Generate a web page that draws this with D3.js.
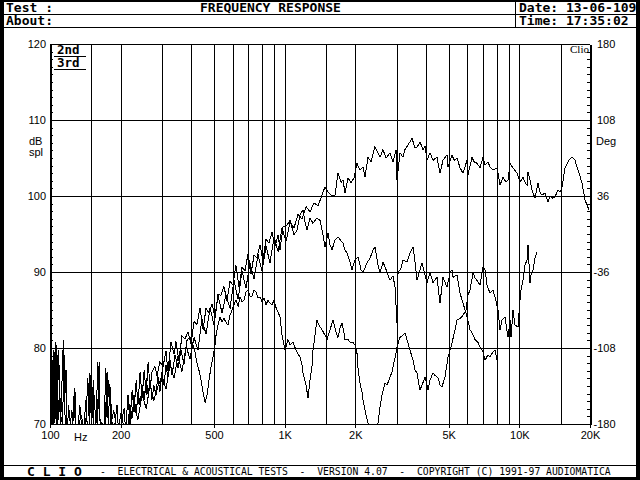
<!DOCTYPE html>
<html><head><meta charset="utf-8">
<script src="https://cdn.jsdelivr.net/npm/d3@7"></script>
<style>body{margin:0;background:#fff}svg{display:block}</style>
</head><body>
<svg id="c" width="640" height="480"></svg>
<script>
// ---- data (frequency in Hz, level in dB SPL) ----
const fundamental = [[219,70.0],[228,72.4],[237,70.6],[247,73.9],[257,72.0],[267,75.2],[277,73.1],[288,74.9],[300,76.3],[312,74.6],
[325,77.8],[338,76.0],[351,79.0],[365,76.9],[380,80.2],[395,78.6],[411,81.4],[427,79.7],[444,83.9],[462,81.8],
[481,85.3],[500,83.0],[520,86.9],[541,84.6],[562,87.0],[585,85.2],[608,88.9],[633,86.4],[658,90.1],[684,87.9],
[712,91.2],[740,89.1],[770,92.3],[801,90.1],[833,93.4],[866,91.2],[901,94.6],[937,92.7],[974,95.8],[1013,94.0],
[1054,96.6],[1096,95.8],[1140,97.6],[1185,97.0],[1233,98.6],[1282,97.9],[1333,99.1],[1387,98.7],[1442,100.1],[1485,101.2],
[1530,100.5],[1591,100.0],[1638,100.1],[1687,103.0],[1738,101.8],[1772,102.1],[1808,100.4],[1862,102.4],[1917,101.7],[1974,102.4],
[2033,104.3],[2094,103.4],[2157,103.8],[2199,102.5],[2265,105.1],[2333,104.5],[2426,106.5],[2499,105.7],[2548,105.1],[2624,106.1],
[2703,105.0],[2811,105.7],[2895,104.5],[2982,106.1],[3011,102.1],[3100,105.7],[3193,105.1],[3256,106.1],[3353,106.7],[3489,107.6],
[3593,106.3],[3664,106.4],[3773,107.1],[3886,106.1],[3963,106.6],[4041,104.7],[4162,105.7],[4286,104.7],[4458,105.1],[4591,103.0],
[4728,104.7],[4917,105.4],[4966,103.8],[5166,105.4],[5269,104.7],[5426,105.0],[5587,103.7],[5754,103.0],[5984,104.7],[6043,102.8],
[6285,105.1],[6410,104.5],[6601,104.3],[6798,103.7],[7001,105.1],[7140,104.1],[7353,104.5],[7499,103.8],[7723,103.4],[8032,103.7],
[8112,103.0],[8271,101.4],[8518,102.5],[8773,101.8],[8947,102.1],[9124,104.3],[9397,103.7],[9773,103.0],[10065,101.8],[10366,102.5],
[10571,101.8],[10781,101.4],[10887,103.2],[11102,102.1],[11322,100.8],[11660,99.7],[12009,101.7],[12245,100.5],[12487,100.1],[12861,100.4],
[13245,99.2],[13508,100.0],[13775,99.7],[14187,99.9],[14612,100.8],[14900,100.5],[15195,101.1],[15649,103.7],[16117,104.5],[16437,104.9],
[16762,105.1],[17264,104.7],[17780,103.4],[18130,102.6],[18489,101.7],[19042,99.5],[19419,98.8],[19805,98.2]];

const secondHarmonic = [[100,70.0],[102,70.0],[103,78.4],[104,70.0],[106,80.8],[107,70.0],[109,79.7],[110,71.8],[113,70.0],[115,79.1],
[116,70.0],[119,70.0],[120,72.5],[122,70.0],[125,70.0],[127,74.7],[128,70.0],[132,70.0],[134,72.5],[136,70.0],
[140,70.0],[142,73.2],[144,70.0],[147,70.0],[148,76.7],[150,70.0],[153,75.8],[154,70.0],[159,70.0],[162,78.2],
[163,70.5],[167,70.0],[172,70.0],[175,76.8],[177,70.0],[180,75.1],[184,70.0],[189,70.0],[193,72.5],[195,70.0],
[201,70.0],[207,72.1],[209,70.0],[215,70.0],[219,72.6],[224,70.8],[228,73.8],[233,71.2],[237,74.2],[242,72.5],
[247,75.1],[252,73.2],[257,76.1],[262,73.8],[267,75.8],[272,73.2],[277,75.1],[283,73.8],[288,76.4],[294,74.2],
[300,76.8],[306,75.1],[312,77.8],[318,76.1],[325,78.4],[331,76.4],[341,79.1],[351,77.4],[362,79.7],[372,77.8],
[384,81.1],[395,81.4],[407,80.4],[415,79.5],[423,78.0],[431,77.1],[440,75.8],[449,74.2],[458,72.8],[467,73.8],
[476,75.8],[485,77.4],[495,78.8],[505,80.4],[510,81.7],[520,83.0],[530,84.1],[541,83.4],[551,83.9],[562,83.4],
[573,83.0],[585,84.3],[597,85.0],[608,85.7],[620,86.3],[633,85.5],[645,86.7],[658,86.1],[671,86.3],[684,87.4],
[698,87.6],[712,86.8],[726,86.8],[740,87.6],[755,87.4],[770,86.6],[785,86.7],[801,86.1],[817,86.6],[833,85.7],
[849,86.3],[866,85.9],[883,85.7],[901,86.3],[919,85.3],[937,84.7],[955,84.1],[974,81.7],[1003,79.7],[1033,81.1],
[1054,80.4],[1085,80.8],[1118,79.7],[1162,78.8],[1185,77.8],[1197,76.7],[1233,75.1],[1258,73.4],[1282,75.8],[1307,77.5],
[1320,79.7],[1347,81.7],[1373,83.7],[1400,83.0],[1442,82.4],[1485,81.7],[1515,81.1],[1560,82.4],[1607,83.7],[1655,82.1],
[1687,81.4],[1721,82.6],[1755,83.3],[1790,82.0],[1808,81.1],[1862,81.1],[1898,80.8],[1955,80.7],[1993,80.4],[2033,79.3],
[2053,77.4],[2094,75.4],[2135,74.2],[2157,73.2],[2199,71.8],[2265,70.1],[2356,68.9],[2452,68.9],[2499,70.1],[2548,72.2],
[2599,73.8],[2676,75.4],[2730,75.1],[2811,76.2],[2867,76.8],[2895,77.5],[2952,78.7],[3011,80.1],[3071,81.1],[3100,81.4],
[3193,81.7],[3256,82.0],[3320,81.1],[3421,79.7],[3523,78.4],[3593,77.1],[3664,76.7],[3736,75.1],[3773,74.5],[3848,75.1],
[3963,76.2],[4041,75.1],[4082,74.5],[4162,75.8],[4286,76.7],[4371,76.4],[4502,76.1],[4591,75.1],[4682,74.9],[4822,76.2],
[4966,78.8],[5066,79.7],[5166,80.7],[5321,82.4],[5426,83.7],[5587,83.9],[5754,84.3],[5926,85.0],[6043,87.0],[6163,87.6],
[6347,89.9],[6473,89.2],[6601,88.9],[6798,88.3],[7001,90.7],[7140,90.3],[7282,88.3],[7499,87.2],[7723,87.6],[7876,86.7],
[8112,85.0],[8271,82.4],[8435,83.7],[8687,84.1],[8947,81.4],[9124,83.7],[9214,81.4],[9397,85.0],[9583,83.0],[9870,82.8],
[10065,86.3],[10164,87.6],[10366,88.9],[10571,90.9],[10781,91.6],[10887,93.6],[11102,88.6],[11211,89.6],[11433,90.3],[11660,91.8],
[11891,92.6]];

const thirdHarmonic = [[100,70.0],[101,73.8],[102,70.0],[104,79.7],[105,70.5],[107,80.4],[108,70.0],[110,75.1],[111,70.0],[114,81.1],
[115,71.8],[117,77.1],[118,70.0],[122,70.0],[124,71.8],[125,70.0],[128,74.2],[129,70.0],[133,70.0],[136,71.2],
[138,70.0],[142,70.0],[145,76.1],[147,70.0],[150,76.8],[151,70.8],[154,73.8],[157,70.0],[160,78.2],[162,71.2],
[165,70.0],[170,70.0],[173,77.4],[175,70.8],[178,75.8],[182,70.0],[187,71.8],[191,70.0],[197,70.0],[201,71.6],
[205,70.0],[211,70.0],[215,73.8],[219,70.0],[224,74.5],[228,71.6],[233,75.8],[237,72.5],[242,76.8],[247,73.4],
[252,77.1],[257,73.8],[262,78.2],[267,74.7],[272,76.8],[280,77.6],[286,76.3],[294,78.2],[303,77.5],[312,79.6],
[318,77.0],[328,80.8],[338,79.2],[344,80.9],[354,78.3],[365,81.6],[376,81.2],[387,82.1],[399,80.5],[411,83.5],
[423,83.1],[436,85.3],[449,82.4],[462,85.2],[476,84.6],[490,85.8],[505,84.1],[520,87.1],[535,86.9],[551,88.1],
[568,86.2],[585,88.8],[602,88.3],[620,90.9],[639,88.0],[658,90.6],[678,90.2],[698,92.4],[719,89.7],[740,92.2],
[762,91.9],[785,93.6],[808,91.5],[833,94.3],[857,93.8],[883,95.2],[910,93.4],[937,94.9],[955,92.9],[984,95.9],
[1023,96.2],[1054,96.8],[1096,94.9],[1129,95.5],[1162,97.5],[1197,98.2],[1220,96.6],[1245,95.5],[1282,97.1],[1320,96.4],
[1373,97.1],[1414,96.8],[1456,94.9],[1485,93.3],[1530,95.1],[1560,93.6],[1591,92.9],[1638,94.2],[1687,94.6],[1772,93.8],
[1808,92.9],[1844,92.5],[1898,91.3],[1936,90.3],[1993,91.6],[2053,92.0],[2115,90.3],[2157,89.9],[2243,91.2],[2310,91.8],
[2379,92.9],[2426,93.3],[2499,90.9],[2548,89.9],[2624,91.3],[2676,90.7],[2757,89.6],[2811,88.9],[2895,89.5],[2952,88.0],
[3011,83.3],[3041,89.9],[3131,90.5],[3193,91.6],[3320,91.3],[3421,92.5],[3523,93.3],[3593,91.3],[3664,88.9],[3773,90.3],
[3848,91.2],[3963,89.6],[4041,88.6],[4162,89.9],[4286,88.6],[4458,89.3],[4591,85.9],[4728,89.3],[4917,88.0],[5066,89.9],
[5166,90.3],[5218,89.3],[5426,89.6],[5587,87.2],[5754,85.9],[5984,84.1],[6163,82.4],[6285,82.0],[6473,81.1],[6667,80.7],
[6798,80.1],[7001,79.5],[7140,78.4],[7353,79.1],[7499,78.8],[7723,79.5],[7876,79.7],[8032,78.4]];

const gridHz = [150,200,300,400,500,600,700,800,900,1000,1500,2000,3000,4000,5000,6000,7000,8000,9000,10000,15000];
const gridDb = [80,90,100,110];
const xLabelHz = [100,200,500,1000,2000,5000,10000,20000];
const xLabelText = ["100","200","500","1K","2K","5K","10K","20K"];
const degLabels = ["-180","-108","-36","36","108","180"];
const legendLabels = ["2nd","3rd"];
const headerTitle = "FREQUENCY RESPONSE";
const headerDate = "Date: 13-06-109";
const headerTime = "Time: 17:35:02";
const footerBrand = "C L I O";
const footerText = "-  ELECTRICAL & ACOUSTICAL TESTS  -  VERSION 4.07  -  COPYRIGHT (C) 1991-97 AUDIOMATICA";

// ---- drawing ----
const svg = d3.select('#c');
const L = 50, R = 590, T = 44, B = 424;
const x = d3.scaleLog().domain([100, 20000]).range([L, R]);
const y = d3.scaleLinear().domain([70, 120]).range([B, T]);
const yDeg = d3.scaleLinear().domain([-180, 180]).range([B, T]);
const MONO = "'DejaVu Sans Mono', monospace";
const SANS = "'Liberation Sans', Arial, sans-serif";

svg.append('rect').attr('width', 640).attr('height', 480).attr('fill', '#fff');

// outer frame
svg.append('rect').attr('x', 0).attr('y', 0).attr('width', 4).attr('height', 480).attr('fill', '#000');
svg.append('rect').attr('x', 636).attr('y', 0).attr('width', 4).attr('height', 480).attr('fill', '#000');
svg.append('rect').attr('x', 0).attr('y', 0).attr('width', 640).attr('height', 2).attr('fill', '#000');
svg.append('rect').attr('x', 0).attr('y', 477).attr('width', 640).attr('height', 3).attr('fill', '#000');

const hl = (x1, y1, x2, y2, w) => svg.append('line').attr('x1', x1).attr('y1', y1).attr('x2', x2).attr('y2', y2)
  .attr('stroke', '#000').attr('stroke-width', w || 1).attr('shape-rendering', 'crispEdges');
hl(4, 14.5, 636, 14.5);
hl(4, 27.5, 636, 27.5);
hl(515.5, 2, 515.5, 27.5);
hl(4, 465.5, 636, 465.5);

const txt = (s, xx, yy, opt) => svg.append('text').attr('x', xx).attr('y', yy).text(s)
    .attr('font-family', opt.f || MONO).attr('font-size', opt.s || 13)
    .attr('font-weight', opt.w || 'normal').attr('fill', '#000')
    .attr('text-anchor', opt.a || 'start').style('white-space', 'pre');

txt('Test :', 6, 12, {w: 'bold'});
txt(headerTitle, 200, 12, {w: 'bold'});
txt(headerDate, 519, 12, {w: 'bold'});
txt('About:', 6, 25, {w: 'bold'});
txt(headerTime, 519, 25, {w: 'bold'});
txt(footerBrand, 27, 476, {w: 'bold'});
txt(footerText, 100, 475, {s: 9.75});

// plot area grid
const grid = svg.append('g').attr('stroke', '#000').attr('stroke-width', 1).attr('shape-rendering', 'crispEdges');
grid.selectAll('line.v').data(gridHz).join('line').attr('class', 'v')
  .attr('x1', d => Math.round(x(d)) + 0.5).attr('x2', d => Math.round(x(d)) + 0.5).attr('y1', T).attr('y2', B);
grid.selectAll('line.h').data(gridDb).join('line').attr('class', 'h')
  .attr('x1', L).attr('x2', R).attr('y1', d => Math.round(y(d)) + 0.5).attr('y2', d => Math.round(y(d)) + 0.5);
grid.append('line').attr('x1', L).attr('x2', R).attr('y1', T + 0.5).attr('y2', T + 0.5);

// curves
svg.append('clipPath').attr('id', 'clip').append('rect').attr('x', L).attr('y', T).attr('width', R - L).attr('height', B - T + 1);
const line = d3.line().x(d => x(d[0])).y(d => y(d[1]));
const curves = svg.append('g').attr('clip-path', 'url(#clip)');
[fundamental, secondHarmonic, thirdHarmonic].forEach(s => {
  curves.append('path').attr('d', line(s)).attr('fill', 'none').attr('stroke', '#000')
    .attr('stroke-width', 1).attr('shape-rendering', 'crispEdges');
});

// axes
const styleAxis = g => {
  g.attr('font-family', SANS).attr('font-size', 11);
  g.selectAll('line').attr('stroke', '#000').attr('shape-rendering', 'crispEdges');
  g.selectAll('text').attr('fill', '#000');
};
const leftAx = svg.append('g').attr('transform', `translate(${L},0)`)
  .call(d3.axisLeft(y).tickValues(d3.range(70, 121, 1)).tickSize(-3).tickSizeOuter(0).tickPadding(4)
    .tickFormat(d => d % 10 === 0 ? String(d) : ''));
styleAxis(leftAx);
leftAx.select('.domain').attr('stroke', '#000').attr('stroke-width', 2).attr('shape-rendering', 'crispEdges');

const degTicks = d3.range(0, 51).map(i => -180 + i * 7.2);
const rightAx = svg.append('g').attr('transform', `translate(${R},0)`)
  .call(d3.axisRight(yDeg).tickValues(degTicks).tickSize(-3).tickSizeOuter(0).tickPadding(7)
    .tickFormat((d, i) => i % 10 === 0 ? degLabels[i / 10] : ''));
styleAxis(rightAx);
rightAx.select('.domain').attr('stroke', '#000').attr('stroke-width', 2).attr('shape-rendering', 'crispEdges');
rightAx.selectAll('text').filter(d => d < 0).attr('dx', -3.5);

const botAx = svg.append('g').attr('transform', `translate(0,${B})`)
  .call(d3.axisBottom(x).tickValues(xLabelHz).tickSize(4).tickSizeOuter(0).tickPadding(3)
    .tickFormat((d, i) => xLabelText[i]));
styleAxis(botAx);
botAx.select('.domain').attr('stroke', '#000').attr('stroke-width', 1).attr('shape-rendering', 'crispEdges');

// axis titles and marks
txt('Hz', 74, 441, {f: SANS, s: 11});
txt('dB', 29, 145, {f: SANS, s: 11});
txt('spl', 29, 156, {f: SANS, s: 11});
txt('Deg', 596, 145, {f: SANS, s: 11});
txt('Clio', 570, 53, {f: "'Liberation Serif', serif", s: 11});

// legend
legendLabels.forEach((s, i) => {
  txt(s, 57, 54 + i * 12.5, {w: 'bold', s: 12.5});
  hl(54, 56.5 + i * 12.5, 86, 56.5 + i * 12.5);
});
</script>
</body></html>
